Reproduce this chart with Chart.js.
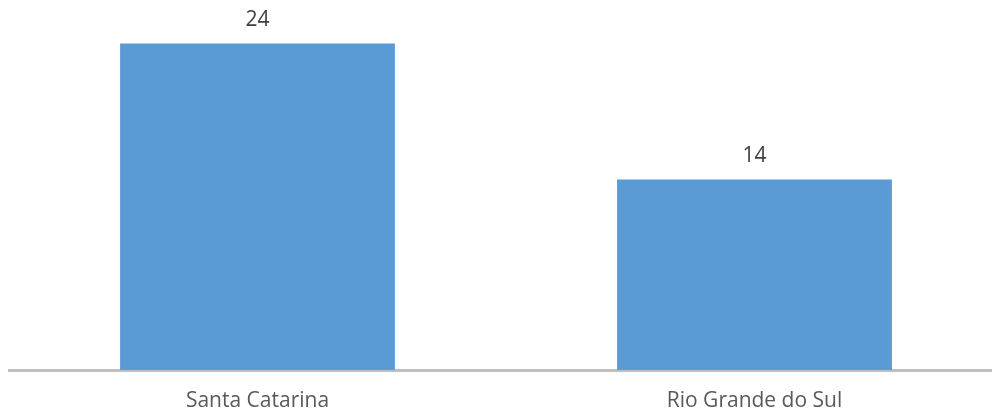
<!DOCTYPE html>
<html>
<head>
<meta charset="utf-8">
<script src="https://cdn.jsdelivr.net/npm/chart.js@4/dist/chart.umd.min.js"></script>
<style>
  html, body { margin: 0; padding: 0; background: #fff; overflow: hidden; }
  #wrap { width: 1004px; height: 415px; }
</style>
</head>
<body>
<div id="wrap"><canvas id="grafico"></canvas></div>
<script>
var estados = ['Santa Catarina', 'Rio Grande do Sul'];
var valori = [24, 14];

// etichette sopra le barre
var etichette = {
  id: 'etichette',
  afterDatasetsDraw: function(chart) {
    var ctx = chart.ctx;
    var meta = chart.getDatasetMeta(0);
    ctx.save();
    ctx.fillStyle = '#404040';
    ctx.font = '21px "Open Sans"';
    ctx.textAlign = 'center';
    ctx.textBaseline = 'alphabetic';
    meta.data.forEach(function(bar, i) {
      ctx.fillText(chart.data.datasets[0].data[i], bar.x, bar.y - 18);
    });
    ctx.restore();
  }
};

var ctx = document.getElementById('grafico');
var chart = new Chart(ctx, {
  type: 'bar',
  data: {
    labels: estados,
    datasets: [{
      data: valori,
      backgroundColor: '#5B9BD5',
      borderWidth: 0,
      barPercentage: 0.553,
      categoryPercentage: 1
    }]
  },
  options: {
    responsive: true,
    maintainAspectRatio: false,
    animation: false,
    layout: { padding: { left: 9, right: 1, top: 30, bottom: 0 } },
    plugins: { legend: { display: false }, tooltip: { enabled: false } },
    scales: {
      x: {
        grid: { display: false, drawTicks: false },
        border: { display: true, color: '#BFBFBF', width: 3 },
        ticks: { color: '#595959', font: { family: 'Open Sans', size: 21 }, padding: 18 },
        afterFit: function(scale) { scale.height = 45; }
      },
      y: {
        display: false,
        min: 0,
        max: 25
      }
    }
  },
  plugins: [etichette]
});
</script>
</body>
</html>
